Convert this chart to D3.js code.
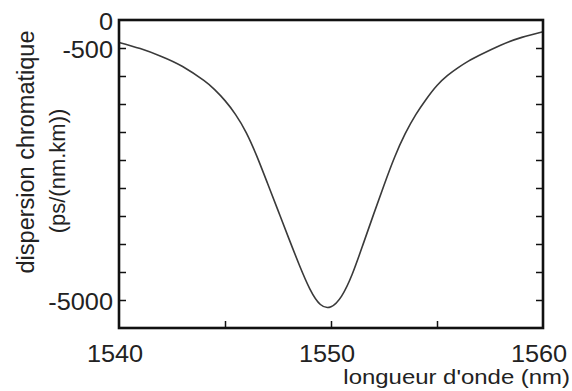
<!DOCTYPE html>
<html>
<head>
<meta charset="utf-8">
<script src="https://cdn.jsdelivr.net/npm/d3@7"></script>
<style>
  html, body { margin: 0; padding: 0; background: #fff; }
  svg { display: block; font-family: "Liberation Sans", Arial, sans-serif; }
</style>
</head>
<body>
<div id="chart"></div>
<script>
// wavelength (nm) and chromatic dispersion (ps/(nm.km))
var wavelength = [1540, 1541, 1542, 1543, 1544, 1544.5, 1545, 1545.5, 1546, 1546.5, 1547, 1547.5, 1548, 1548.5,
  1549, 1549.5, 1550, 1550.5, 1551, 1551.5, 1552, 1552.5, 1553, 1553.5, 1554,
  1554.5, 1555, 1555.5, 1556, 1556.5, 1557, 1558, 1559, 1560];
var dispersion = [-400, -510, -650, -830, -1080, -1240, -1440, -1690, -2010, -2430, -2910, -3400, -3890, -4370,
  -4800, -5080, -5120, -4930, -4540, -4020, -3480, -2950, -2450, -2030, -1690,
  -1410, -1170, -990, -850, -730, -630, -450, -310, -210];

var xTicks = [1545, 1550, 1555];
var xLabels = [1540, 1550, 1560];
var yTicks = [-500, -1000, -1500, -2000, -2500, -3000, -3500, -4000, -4500, -5000];
var yLabels = [0, -500, -5000];

(function () {
  var W = 572, H = 391;
  var pLeft = 119, pRight = 543, pTop = 20, pBottom = 328;

  var svg = d3.select("#chart").append("svg")
    .attr("width", W).attr("height", H);

  var x = d3.scaleLinear().domain([1540, 1560]).range([pLeft, pRight]);
  var y = d3.scaleLinear().domain([-5500, 0]).range([pBottom, pTop]);

  // inside ticks
  function styleTicks(g) {
    g.select(".domain").remove();
    g.selectAll(".tick line").attr("stroke", "#111").attr("stroke-width", 1.5);
  }

  svg.append("g").attr("transform", "translate(" + pLeft + ",0)")
    .call(d3.axisLeft(y).tickValues(yTicks).tickSizeInner(-7).tickSizeOuter(0).tickFormat(""))
    .call(styleTicks);

  svg.append("g").attr("transform", "translate(" + pRight + ",0)")
    .call(d3.axisRight(y).tickValues(yTicks).tickSizeInner(-7).tickSizeOuter(0).tickFormat(""))
    .call(styleTicks);

  svg.append("g").attr("transform", "translate(0," + pBottom + ")")
    .call(d3.axisBottom(x).tickValues(xTicks).tickSizeInner(-7).tickSizeOuter(0).tickFormat(""))
    .call(styleTicks);

  // curve
  var line = d3.line()
    .x(function (d, i) { return x(wavelength[i]); })
    .y(function (d) { return y(d); })
    .curve(d3.curveNatural);

  svg.append("path")
    .datum(dispersion)
    .attr("d", line)
    .attr("fill", "none")
    .attr("stroke", "#3a3a3a")
    .attr("stroke-width", 1.6);

  // frame
  svg.append("rect")
    .attr("x", pLeft).attr("y", pTop)
    .attr("width", pRight - pLeft).attr("height", pBottom - pTop)
    .attr("fill", "none")
    .attr("stroke", "#111")
    .attr("stroke-width", 2.6);

  // tick labels
  svg.selectAll(".ylab").data(yLabels).enter().append("text")
    .attr("class", "ylab")
    .attr("transform", function (d) { return "translate(" + (pLeft - 6) + "," + (y(d) + 2) + ") scale(1.1,1)"; })
    .attr("text-anchor", "end")
    .attr("dy", "0.35em")
    .attr("font-size", 23)
    .attr("fill", "#222")
    .text(function (d) { return d; });

  svg.selectAll(".xlab").data(xLabels).enter().append("text")
    .attr("class", "xlab")
    .attr("transform", function (d) { return "translate(" + (x(d) - 4) + ",362) scale(1.1,1)"; })
    .attr("text-anchor", "middle")
    .attr("font-size", 23)
    .attr("fill", "#222")
    .text(function (d) { return d; });

  // axis titles
  svg.append("text")
    .attr("transform", "translate(570,384) scale(1.14,1)")
    .attr("text-anchor", "end")
    .attr("font-size", 21)
    .attr("fill", "#222")
    .text("longueur d'onde (nm)");

  svg.append("text")
    .attr("transform", "translate(34,152) rotate(-90)")
    .attr("text-anchor", "middle")
    .attr("font-size", 23.5)
    .attr("fill", "#222")
    .text("dispersion chromatique");

  svg.append("text")
    .attr("transform", "translate(65,171) rotate(-90)")
    .attr("text-anchor", "middle")
    .attr("font-size", 22)
    .attr("fill", "#222")
    .text("(ps/(nm.km))");
})();
</script>
</body>
</html>
